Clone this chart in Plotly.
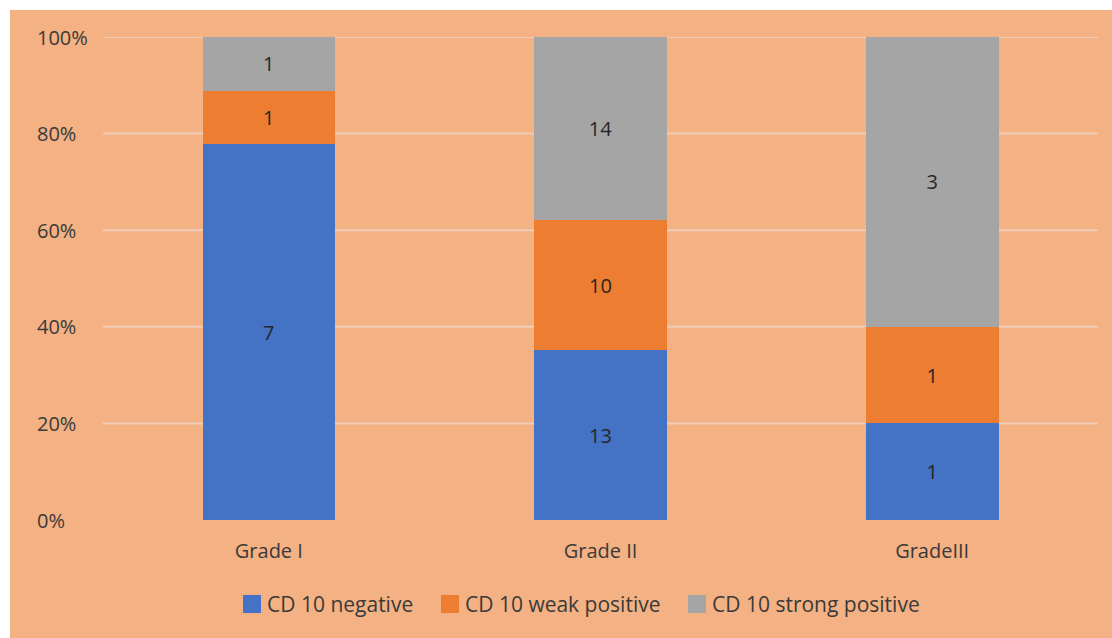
import plotly.graph_objects as go

grades = ["Grade I", "Grade II", "GradeIII"]
negative = [7, 13, 1]
weak_positive = [1, 10, 1]
strong_positive = [1, 14, 3]
y_ticks = [0, 20, 40, 60, 80, 100]
y_tick_labels = ["0%", "20%", "40%", "60%", "80%", "100%"]

series_names = ["CD 10 negative", "CD 10 weak positive", "CD 10 strong positive"]
series_values = [negative, weak_positive, strong_positive]
series_colors = ["#4472C4", "#ED7D31", "#A5A5A5"]

FONT = "Open Sans, Lato, sans-serif"
TEXT_COLOR = "#3A3A3A"

# plot area in pixels: x 103..1098, y 37..520
L, R, T, B = 103, 14, 37, 118
W, H = 1112, 638
PW, PH = W - L - R, H - T - B


def px_x(p):
    return (p - L) / PW


def px_y(p):
    return (H - B - p) / PH


fig = go.Figure()
for name, vals, color in zip(series_names, series_values, series_colors):
    fig.add_trace(go.Bar(
        x=grades, y=vals, name=name, showlegend=False,
        marker=dict(color=color, line=dict(width=0)),
        text=[str(v) for v in vals], texttemplate="%{text}",
        textposition="inside", insidetextanchor="middle",
        textfont=dict(family=FONT, size=20, color="#262626"),
        textangle=0,
    ))

shapes = [dict(type="rect", xref="paper", yref="paper", layer="below",
               x0=px_x(10), x1=px_x(1130), y0=px_y(660), y1=px_y(10),
               fillcolor="#F4B183", line=dict(width=0))]
# horizontal gridlines
for v in y_ticks[1:]:
    shapes.append(dict(type="line", xref="paper", yref="y", layer="below",
                       x0=0, x1=1, y0=v, y1=v,
                       line=dict(color="#EFCDB9", width=2)))

annotations = []
# y tick labels, left aligned
for v, lab in zip(y_ticks, y_tick_labels):
    annotations.append(dict(xref="paper", yref="y", x=px_x(35), y=v,
                            xanchor="left", yanchor="middle", showarrow=False,
                            text=lab, font=dict(family=FONT, size=20, color=TEXT_COLOR)))

# legend row
marker_x = [243, 441, 688]
legend_y = 604
for name, color, mx in zip(series_names, series_colors, marker_x):
    shapes.append(dict(type="rect", xref="paper", yref="paper",
                       x0=px_x(mx), x1=px_x(mx + 18),
                       y0=px_y(legend_y + 9), y1=px_y(legend_y - 9),
                       fillcolor=color, line=dict(width=0)))
    annotations.append(dict(xref="paper", yref="paper", x=px_x(mx + 22), y=px_y(legend_y),
                            xanchor="left", yanchor="middle", showarrow=False,
                            text=name, font=dict(family=FONT, size=21, color=TEXT_COLOR)))

fig.update_layout(
    width=W, height=H,
    barmode="stack", barnorm="percent", bargap=0.6,
    paper_bgcolor="white", plot_bgcolor="rgba(0,0,0,0)",
    margin=dict(l=L, r=R, t=T, b=B),
    font=dict(family=FONT, size=20, color=TEXT_COLOR),
    showlegend=False,
    shapes=shapes, annotations=annotations,
)
fig.update_yaxes(range=[0, 100], tickvals=y_ticks, showticklabels=False,
                 showgrid=False, zeroline=False, showline=False, ticks="")
fig.update_xaxes(showgrid=False, showline=False, ticks="", ticklabelstandoff=17,
                 tickfont=dict(family=FONT, size=20, color=TEXT_COLOR))

fig.write_html("out.html")
